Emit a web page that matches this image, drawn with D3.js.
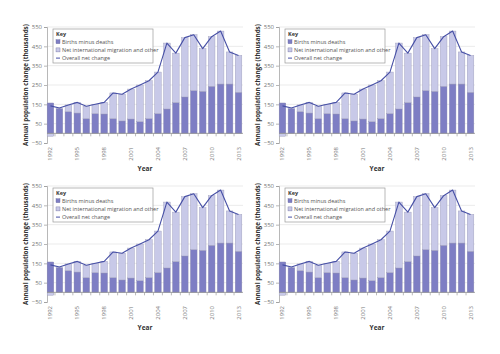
<!DOCTYPE html>
<html>
<head>
<meta charset="utf-8">
<script src="https://cdn.jsdelivr.net/npm/d3@7"></script>
<style>
  body { margin: 0; background: #fff; }
  svg { display: block; }
  text { font-family: "Open Sans", "DejaVu Sans", sans-serif; }
</style>
</head>
<body>
<div id="chart"></div>
<script>
const width = 500
const height = 354

const years = [1992, 1993, 1994, 1995, 1996, 1997, 1998, 1999, 2000, 2001, 2002,
    2003, 2004, 2005, 2006, 2007, 2008, 2009, 2010, 2011, 2012, 2013]
const births = [157, 128, 112, 105, 76, 102, 100, 76, 64, 74, 60,
    76, 102, 126, 159, 188, 221, 217, 243, 255, 255, 212]
const migration = [-15, 3, 35, 55, 64, 48, 60, 133, 138, 155, 190,
    196, 215, 341, 256, 307, 289, 221, 257, 274, 166, 191]
const netChange = [142, 131, 147, 160, 140, 150, 160, 209, 202, 229, 250,
    272, 317, 467, 415, 495, 510, 438, 500, 529, 421, 403]
const yTicks = [-50, 50, 150, 250, 350, 450, 550]
const xLabelYears = [1992, 1995, 1998, 2001, 2004, 2007, 2010, 2013]
const keyItems = ["Births minus deaths", "Net international migration and other", "Overall net change"]

const darkColor = "#7e7ec4"
const lightColor = "#c8c9e8"
const lineColor = "#4750a6"

const svg = d3.select("#chart")
    .append("svg")
    .attr("width", width)
    .attr("height", height)

// each panel is the same chart, drawn at a different offset
const panels = [
    { dx: 0, dy: 0 },
    { dx: 232, dy: 0 },
    { dx: 0, dy: 159 },
    { dx: 232, dy: 159 }
]

function drawPanel(dx, dy) {
    const g = svg.append("g").attr("transform", `translate(${dx},${dy})`)

    const x = d3.scaleBand()
        .domain(years)
        .range([46, 243])
        .paddingInner(0.26)
        .paddingOuter(0.13)
    const y = d3.scaleLinear()
        .domain([-50, 550])
        .range([143, 27])

    // gridlines
    g.append("g")
        .selectAll("line")
        .data(yTicks.filter(d => d != -50))
        .join("line")
        .attr("x1", 47)
        .attr("x2", 243)
        .attr("y1", d => y(d))
        .attr("y2", d => y(d))
        .attr("stroke", "#e2e2e2")
        .attr("stroke-width", 0.7)

    // y axis
    const yAxis = g.append("g")
        .attr("transform", "translate(47,0)")
        .call(d3.axisLeft(y).tickValues(yTicks).tickSize(3).tickPadding(2))
    yAxis.select(".domain").attr("stroke", "#9a9a9a").attr("stroke-width", 0.7)
    yAxis.selectAll(".tick line").attr("stroke", "#9a9a9a").attr("stroke-width", 0.7)
    yAxis.selectAll(".tick text")
        .attr("fill", "#777")
        .style("font-size", "6px")
        .style("font-family", "'Open Sans', sans-serif")

    // stacked bars
    const bars = g.append("g")
    bars.selectAll(".births")
        .data(years)
        .join("rect")
        .attr("class", "births")
        .attr("x", d => x(d))
        .attr("width", x.bandwidth())
        .attr("y", (d, i) => y(Math.max(0, births[i])))
        .attr("height", (d, i) => Math.abs(y(births[i]) - y(0)))
        .attr("fill", darkColor)
        .attr("stroke", "#8a8ab0")
        .attr("stroke-width", 0.4)
    bars.selectAll(".migration")
        .data(years)
        .join("rect")
        .attr("class", "migration")
        .attr("x", d => x(d))
        .attr("width", x.bandwidth())
        .attr("y", (d, i) => migration[i] >= 0 ? y(births[i] + migration[i]) : y(0))
        .attr("height", (d, i) => Math.abs(y(migration[i]) - y(0)))
        .attr("fill", lightColor)
        .attr("stroke", "#9a9ab8")
        .attr("stroke-width", 0.4)

    // zero line with year ticks
    g.append("line")
        .attr("x1", 47)
        .attr("x2", 243)
        .attr("y1", y(0))
        .attr("y2", y(0))
        .attr("stroke", "#8c8c8c")
        .attr("stroke-width", 0.8)
    g.append("g")
        .selectAll("line")
        .data(years.slice(1))
        .join("line")
        .attr("x1", d => x(d) - x.step() * x.paddingInner() / 2)
        .attr("x2", d => x(d) - x.step() * x.paddingInner() / 2)
        .attr("y1", y(0))
        .attr("y2", y(0) + 3)
        .attr("stroke", "#8c8c8c")
        .attr("stroke-width", 0.6)

    // net change line
    const line = d3.line()
        .x((d, i) => x(years[i]) + x.bandwidth() / 2)
        .y(d => y(d))
    g.append("path")
        .datum(netChange)
        .attr("fill", "none")
        .attr("stroke", lineColor)
        .attr("stroke-width", 1.1)
        .attr("stroke-linejoin", "round")
        .attr("d", line)

    // year labels
    g.append("g")
        .selectAll("text")
        .data(xLabelYears)
        .join("text")
        .text(d => d)
        .attr("transform", d => `translate(${x(d) + x.bandwidth() / 2 + 2},147) rotate(-90)`)
        .attr("text-anchor", "end")
        .attr("fill", "#777")
        .style("font-size", "6px")

    // axis titles
    g.append("text")
        .text("Year")
        .attr("x", 145)
        .attr("y", 171)
        .attr("text-anchor", "middle")
        .attr("fill", "#333")
        .style("font-size", "6.5px")
        .style("font-weight", "bold")
    g.append("text")
        .text("Annual population change (thousands)")
        .attr("transform", "translate(28,85) rotate(-90)")
        .attr("text-anchor", "middle")
        .attr("fill", "#333")
        .style("font-size", "6.3px")
        .style("font-weight", "bold")

    // key
    const key = g.append("g").attr("transform", "translate(53,29)")
    key.append("rect")
        .attr("width", 100)
        .attr("height", 34)
        .attr("fill", "#fff")
        .attr("stroke", "#9a9a9a")
        .attr("stroke-width", 0.7)
    key.append("text")
        .text("Key")
        .attr("x", 3)
        .attr("y", 7)
        .attr("fill", "#333")
        .style("font-size", "5.5px")
        .style("font-weight", "bold")
    keyItems.forEach((label, i) => {
        const ky = 14.5 + i * 8.2
        if (i < 2) {
            key.append("rect")
                .attr("x", 3)
                .attr("y", ky - 3.8)
                .attr("width", 4)
                .attr("height", 4)
                .attr("fill", i == 0 ? darkColor : lightColor)
                .attr("stroke", "#7070a0")
                .attr("stroke-width", 0.4)
        } else {
            key.append("line")
                .attr("x1", 3)
                .attr("x2", 7)
                .attr("y1", ky - 1.8)
                .attr("y2", ky - 1.8)
                .attr("stroke", lineColor)
                .attr("stroke-width", 1)
        }
        key.append("text")
            .text(label)
            .attr("x", 9)
            .attr("y", ky)
            .attr("fill", "#555")
            .style("font-size", "5.5px")
    })
}

panels.forEach(p => drawPanel(p.dx, p.dy))
</script>
</body>
</html>
